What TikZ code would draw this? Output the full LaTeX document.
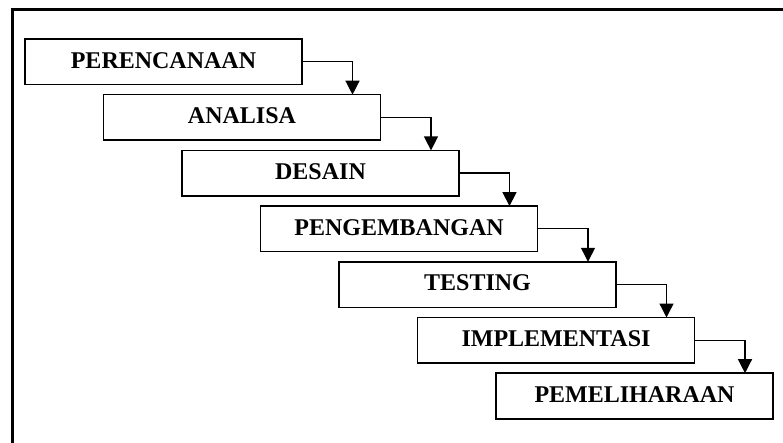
\documentclass[tikz,border=0pt]{standalone}
\usepackage{fontspec}
\setmainfont{Liberation Serif}
\usetikzlibrary{arrows.meta}
\tikzset{
  stepbox/.style={draw, line width=1.6pt, minimum width=277pt, minimum height=45.5pt,
    inner sep=0pt, outer sep=0pt, anchor=north west, text depth=3pt,
    font=\fontsize{24}{24}\selectfont\bfseries},
  conn/.style={line width=1.3pt, -{Triangle[width=14pt,length=14pt]}},
  frame/.style={line width=3pt}
}
\begin{document}
\begin{tikzpicture}[x=1pt,y=-1pt]
  \useasboundingbox (0,0) rectangle (783,443);
  % open frame: left and top edges only
  \draw[frame] (12.5,443) -- (12.5,9.5) -- (783,9.5);
  % stepped phases
  \node[stepbox] (b1) at (25,39)      {PERENCANAAN};
  \node[stepbox] (b2) at (103.5,94.7) {ANALISA};
  \node[stepbox] (b3) at (182,150.4)  {DESAIN};
  \node[stepbox] (b4) at (260.5,206.1){PENGEMBANGAN};
  \node[stepbox] (b5) at (339,261.8)  {TESTING};
  \node[stepbox] (b6) at (417.5,317.5){IMPLEMENTASI};
  \node[stepbox] (b7) at (496,373.2)  {PEMELIHARAAN};
  % flow from each phase to the next
  \foreach \a/\b in {b1/b2,b2/b3,b3/b4,b4/b5,b5/b6,b6/b7}
    \draw[conn] (\a.east) -| ([xshift=249pt]\b.north west);
\end{tikzpicture}
\end{document}
